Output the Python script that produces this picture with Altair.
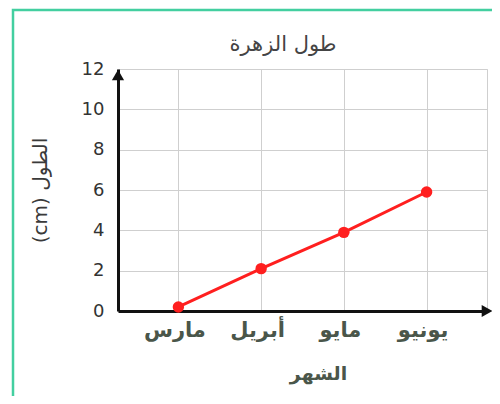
import altair as alt
import pandas as pd

months = ["مارس", "أبريل", "مايو", "يونيو"]
lengths = [0.2, 2.1, 3.9, 5.9]
y_ticks = [0, 2, 4, 6, 8, 10, 12]
chart_title = "طول الزهرة"

df = pd.DataFrame({"month": months, "length": lengths})

FONT = "DejaVu Sans"
RED = "#ff1f1f"
LABEL_GREEN = "#4a564a"

x_enc = alt.X(
    "month:N",
    sort=months,
    scale=alt.Scale(type="point", padding=0.73),
    axis=alt.Axis(
        title="الشهر",
        labelAngle=0,
        labelFontSize=21,
        labelColor=LABEL_GREEN,
        labelFontWeight="bold",
        labelPadding=8,
        labelOffset=-4,
        ticks=False,
        domainColor="#111111",
        domainWidth=3,
        grid=True,
        gridColor="#cfcfcf",
        titleFontSize=19,
        titleFontWeight="bold",
        titleColor=LABEL_GREEN,
        titlePadding=24,
        titleX=200,
    ),
)

y_enc = alt.Y(
    "length:Q",
    scale=alt.Scale(domain=[0, 12], nice=False),
    axis=alt.Axis(
        title="(cm) الطول",
        values=y_ticks,
        labelFontSize=18,
        labelColor="#333333",
        labelPadding=14,
        ticks=False,
        domainColor="#111111",
        domainWidth=3,
        grid=True,
        gridColor="#cfcfcf",
        titleFontSize=20,
        titleFontWeight="normal",
        titleColor="#3a3a3a",
        titleAngle=270,
        titleAlign="center",
        titleBaseline="middle",
        titleX=-78,
        titleY=121,
    ),
)

base = alt.Chart(df).encode(x=x_enc, y=y_enc)

line = base.mark_line(color=RED, strokeWidth=3)
pts = base.mark_circle(color=RED, size=130, opacity=1)

deco = alt.Chart(pd.DataFrame({"t": [chart_title]}))

title_txt = deco.mark_text(fontSize=21, color="#444444", align="center", baseline="middle").encode(
    text="t:N", x=alt.value(165), y=alt.value(-24)
)
y_arrow = deco.mark_point(shape="triangle-up", filled=True, color="#111111", size=150, opacity=1).encode(
    x=alt.value(0), y=alt.value(6)
)
x_arrow = deco.mark_point(shape="triangle-right", filled=True, color="#111111", size=150, opacity=1).encode(
    x=alt.value(369), y=alt.value(242)
)
border = deco.mark_rect(fill=None, stroke="#43cfa0", strokeWidth=2.5).encode(
    x=alt.value(-105), x2=alt.value(420), y=alt.value(-59), y2=alt.value(330)
)

chart = (
    alt.layer(border, line, pts, y_arrow, x_arrow, title_txt)
    .properties(
        width=369,
        height=242,
        padding={"left": 110, "top": 61, "right": 5, "bottom": 85},
        autosize=alt.AutoSizeParams(type="none"),
    )
    .configure(font=FONT)
    .configure_view(stroke="#cfcfcf", strokeWidth=1)
)

chart.save("out.html", embed_options={"renderer": "svg", "actions": False})
